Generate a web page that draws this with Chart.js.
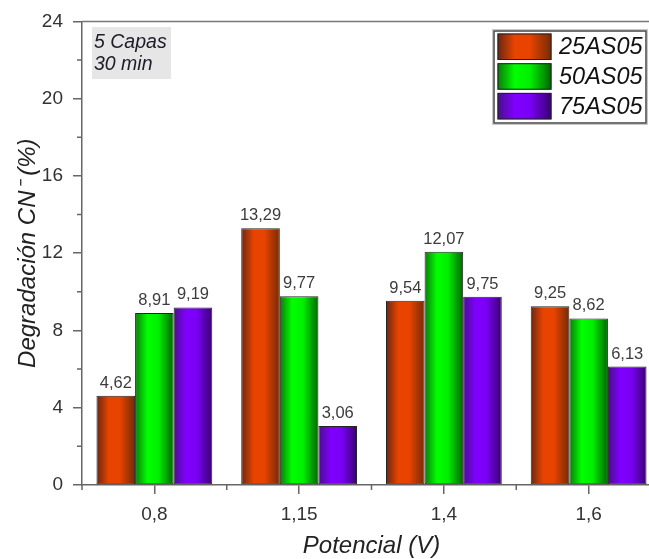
<!DOCTYPE html>
<html><head><meta charset="utf-8">
<script src="https://cdn.jsdelivr.net/npm/chart.js@4"></script>
<style>
html,body{margin:0;padding:0;overflow:hidden;background:#fff;width:649px;height:559px}
#c{position:absolute;left:0;top:0}
</style></head><body>
<canvas id="c" width="661" height="559" style="width:661px;height:559px"></canvas>
<script>
const categories = ['0,8', '1,15', '1,4', '1,6'];
const seriesNames = ['25AS05', '50AS05', '75AS05'];
const values25AS05 = [4.62, 13.29, 9.54, 9.25];
const values50AS05 = [8.91, 9.77, 12.07, 8.62];
const values75AS05 = [9.19, 3.06, 9.75, 6.13];
const yTickValues = [0, 4, 8, 12, 16, 20, 24];
const yMinorTickValues = [2, 6, 10, 14, 18, 22];
const noteLines = ['5 Capas', '30 min'];
const xTitle = 'Potencial (V)';
const yTitle = 'Degradación CN\u207B (%)';

const seriesValues = [values25AS05, values50AS05, values75AS05];
const FONT = "'Liberation Sans', Arial, sans-serif";
const palettes = [
  ['#6a2612', '#e84400', '#e84400', '#742a08'],
  ['#0a7a0a', '#00ff00', '#00f000', '#006400'],
  ['#46108a', '#8000ff', '#7a00f5', '#380070']
];

function makeGrad(ctx, x0, x1, pal) {
  const g = ctx.createLinearGradient(x0, 0, x1, 0);
  g.addColorStop(0, pal[0]);
  g.addColorStop(0.32, pal[1]);
  g.addColorStop(0.6, pal[2]);
  g.addColorStop(1, pal[3]);
  return g;
}

const fmt = v => v.toFixed(2).replace('.', ',');

const gradientPlugin = {
  id: 'gradients',
  beforeDatasetDraw(chart, args) {
    const meta = args.meta;
    const pal = palettes[args.index];
    meta.data.forEach(el => {
      const p = el.getProps(['x', 'width'], true);
      el.options.backgroundColor = makeGrad(chart.ctx, p.x - p.width / 2, p.x + p.width / 2, pal);
    });
  }
};

const decorPlugin = {
  id: 'decor',
  afterDatasetsDraw(chart) {
    const ctx = chart.ctx;
    ctx.save();
    ctx.font = '16.5px ' + FONT;
    ctx.fillStyle = '#3c3c3c';
    ctx.textAlign = 'center';
    ctx.textBaseline = 'alphabetic';
    chart.data.datasets.forEach((ds, di) => {
      chart.getDatasetMeta(di).data.forEach((el, i) => {
        const p = el.getProps(['x', 'y'], true);
        ctx.fillText(fmt(ds.data[i]), p.x, p.y - 8);
      });
    });
    ctx.restore();
  },
  afterDraw(chart) {
    const ctx = chart.ctx;
    const ca = chart.chartArea;
    const xs = chart.scales.x, ys = chart.scales.y;
    ctx.save();
    ctx.strokeStyle = '#777';
    ctx.lineWidth = 1.5;
    ctx.beginPath();
    ctx.moveTo(ca.left, ca.top);
    ctx.lineTo(ca.right, ca.top);
    ctx.stroke();
    ctx.strokeStyle = '#666';
    ctx.lineWidth = 1.5;
    ctx.beginPath();
    yMinorTickValues.forEach(v => {
      const py = ys.getPixelForValue(v);
      ctx.moveTo(ca.left - 5, py);
      ctx.lineTo(ca.left, py);
    });
    const half = (xs.getPixelForValue(1) - xs.getPixelForValue(0)) / 2;
    categories.forEach((c, i) => {
      const bx = xs.getPixelForValue(i) - half;
      ctx.moveTo(bx, ca.bottom);
      ctx.lineTo(bx, ca.bottom + 5);
    });
    ctx.stroke();

    ctx.fillStyle = '#e6e6e6';
    ctx.fillRect(92, 27, 79, 52);
    ctx.fillStyle = '#1c1c2a';
    ctx.font = 'italic 19.5px ' + FONT;
    ctx.textAlign = 'left';
    ctx.textBaseline = 'alphabetic';
    noteLines.forEach((t, i) => ctx.fillText(t, 94, 47.5 + i * 22.7));

    const lx = 494, ly = 31, lw = 152, lh = 92;
    ctx.fillStyle = '#fff';
    ctx.fillRect(lx, ly, lw, lh);
    ctx.strokeStyle = '#c8c8c8';
    ctx.lineWidth = 1;
    ctx.strokeRect(lx - 1.5, ly - 1.5, lw + 3, lh + 3);
    ctx.strokeStyle = '#444';
    ctx.lineWidth = 1.5;
    ctx.strokeRect(lx, ly, lw, lh);
    ctx.font = 'italic 23.5px ' + FONT;
    ctx.textBaseline = 'middle';
    seriesNames.forEach((n, i) => {
      const ry = ly + 2.5 + i * 29.7;
      const sx = 497.5, sw = 54, sh = 26.5;
      ctx.fillStyle = makeGrad(ctx, sx, sx + sw, palettes[i]);
      ctx.fillRect(sx, ry, sw, sh);
      ctx.strokeStyle = '#222';
      ctx.lineWidth = 1;
      ctx.strokeRect(sx + 0.5, ry + 0.5, sw - 1, sh - 1);
      ctx.fillStyle = '#111';
      ctx.fillText(n, 559, ry + sh / 2 + 1);
    });
    ctx.restore();
  }
};

new Chart(document.getElementById('c'), {
  type: 'bar',
  data: {
    labels: categories,
    datasets: seriesNames.map((n, i) => ({
      label: n,
      data: seriesValues[i],
      backgroundColor: c => palettes[c.datasetIndex][1],
      borderColor: '#262626',
      borderWidth: 1,
      borderSkipped: false,
      categoryPercentage: 0.8,
      barPercentage: 1.0
    }))
  },
  options: {
    responsive: false,
    animation: false,
    devicePixelRatio: 1,
    layout: { padding: { top: 18, left: 0, right: 0, bottom: 0 } },
    plugins: { legend: { display: false }, tooltip: { enabled: false } },
    scales: {
      x: {
        grid: { offset: false, drawOnChartArea: false, tickLength: 9, color: '#666', lineWidth: 1.5 },
        border: { color: '#666', width: 1.5 },
        ticks: { font: { family: FONT, size: 19 }, color: '#333', padding: 9, maxRotation: 0 },
        title: { display: true, text: xTitle, color: '#222', font: { family: FONT, size: 24, style: 'italic', lineHeight: 1.0 }, padding: { top: 0, bottom: 1 } },
        afterFit: s => { s.height = 74; }
      },
      y: {
        min: 0, max: 24,
        afterBuildTicks: s => { s.ticks = yTickValues.map(v => ({ value: v })); },
        grid: { drawOnChartArea: false, tickLength: 9, color: '#666', lineWidth: 1.5 },
        border: { color: '#666', width: 1.5 },
        ticks: { font: { family: FONT, size: 19 }, color: '#333', padding: 10 },
        title: { display: true, text: yTitle, color: '#222', font: { family: FONT, size: 24, style: 'italic' }, padding: { top: 14, bottom: 0 } },
        afterFit: s => { s.width = 82; }
      }
    }
  },
  plugins: [gradientPlugin, decorPlugin]
});
</script>
</body></html>
